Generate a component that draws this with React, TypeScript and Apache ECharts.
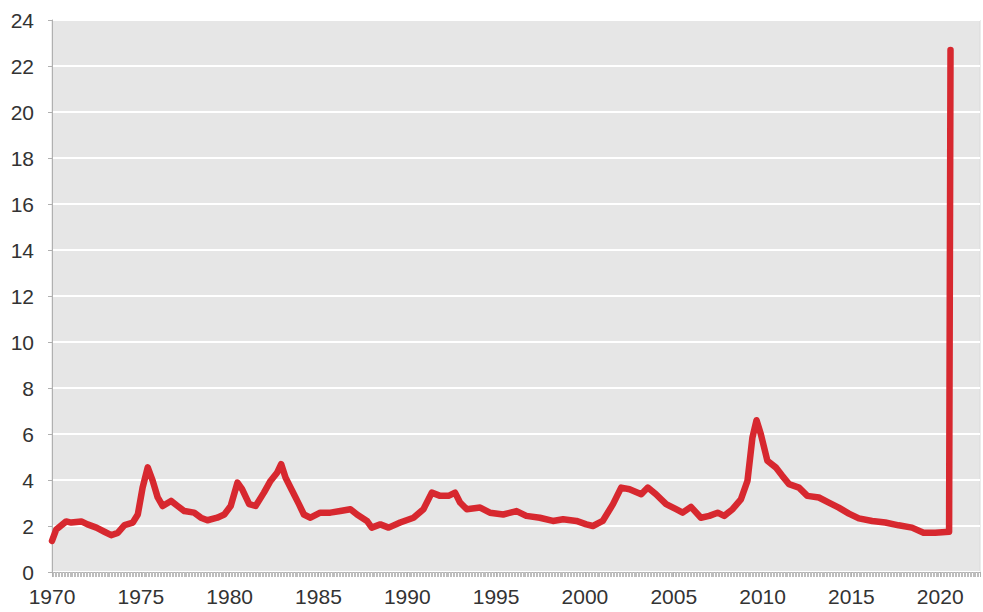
import React, { useEffect, useRef } from "react";
import * as echarts from "echarts";

const years = [
  1970.0, 1970.24, 1970.8, 1971.08, 1971.65, 1972.0, 1972.5, 1972.95, 1973.33, 1973.7,
  1974.08, 1974.55, 1974.83, 1975.1, 1975.39, 1975.67, 1975.95, 1976.23, 1976.7, 1977.07,
  1977.45, 1978.0, 1978.38, 1978.75, 1979.3, 1979.7, 1980.06, 1980.44, 1980.7, 1981.1,
  1981.46, 1981.93, 1982.3, 1982.68, 1982.9, 1983.15, 1983.52, 1983.9, 1984.18, 1984.55,
  1985.1, 1985.67, 1986.23, 1986.8, 1987.17, 1987.73, 1988.0, 1988.48, 1988.95, 1989.6,
  1990.35, 1990.91, 1991.38, 1991.85, 1992.32, 1992.69, 1992.97, 1993.35, 1994.1, 1994.65,
  1995.4, 1996.15, 1996.7, 1997.46, 1998.2, 1998.77, 1999.52, 2000.08, 2000.45, 2001.0,
  2001.58, 2002.04, 2002.51, 2003.17, 2003.54, 2004.0, 2004.57, 2005.13, 2005.5, 2005.97,
  2006.53, 2007.0, 2007.47, 2007.84, 2008.31, 2008.78, 2009.15, 2009.43, 2009.66, 2009.9,
  2010.27, 2010.74, 2011.11, 2011.49, 2012.05, 2012.52, 2013.17, 2013.73, 2014.29, 2014.86,
  2015.42, 2016.17, 2016.91, 2017.66, 2018.41, 2019.06, 2019.72, 2020.5, 2020.58,
];

const rates = [
  1.35, 1.85, 2.2, 2.15, 2.2, 2.07, 1.93, 1.75, 1.6, 1.7,
  2.04, 2.15, 2.5, 3.67, 4.55, 3.96, 3.24, 2.87, 3.09, 2.87,
  2.65, 2.58, 2.36, 2.25, 2.36, 2.5, 2.87, 3.89, 3.6, 2.95,
  2.87, 3.45, 3.96, 4.33, 4.69, 4.1, 3.53, 2.95, 2.5, 2.36,
  2.58, 2.58, 2.65, 2.73, 2.5, 2.22, 1.93, 2.07, 1.93, 2.15,
  2.36, 2.73, 3.45, 3.31, 3.31, 3.45, 3.02, 2.73, 2.8, 2.58,
  2.5, 2.65, 2.44, 2.36, 2.22, 2.29, 2.22, 2.07, 2.0, 2.22,
  2.95, 3.67, 3.6, 3.38, 3.67, 3.38, 2.95, 2.73, 2.58, 2.83,
  2.36, 2.44, 2.58, 2.44, 2.73, 3.16, 3.96, 5.85, 6.6, 6.0,
  4.84, 4.55, 4.18, 3.82, 3.67, 3.31, 3.24, 3.02, 2.8, 2.54,
  2.33, 2.22, 2.15, 2.03, 1.93, 1.71, 1.71, 1.75, 22.7,
];

const xTickYears = [1970, 1975, 1980, 1985, 1990, 1995, 2000, 2005, 2010, 2015, 2020];

export default function App() {
  const ref = useRef<HTMLDivElement>(null);

  useEffect(() => {
    if (!ref.current) return;
    const chart = echarts.init(ref.current, null, { renderer: "svg" });
    const data = years.map((y, i) => [y, rates[i]]);
    chart.setOption({
      animation: false,
      backgroundColor: "#ffffff",
      grid: {
        left: 52,
        right: 0,
        top: 20,
        bottom: 40,
        show: true,
        backgroundColor: "#e6e6e6",
        borderColor: "#dadada",
        borderWidth: 1,
      },
      xAxis: {
        type: "value",
        min: 1970,
        max: 2022.24,
        interval: 5,
        axisLine: { show: true, lineStyle: { color: "#b0b0b0", width: 1 } },
        axisTick: { show: true, length: 5, lineStyle: { color: "#b0b0b0" } },
        minorTick: { show: true, splitNumber: 60, length: 5, lineStyle: { color: "#bdbdbd" } },
        splitLine: { show: false },
        axisLabel: {
          margin: 14,
          fontSize: 21,
          color: "#333333",
          fontFamily: "Liberation Sans, Arial, sans-serif",
          formatter: (v: number) => (xTickYears.includes(Math.round(v * 100) / 100) ? String(v) : ""),
        },
      },
      yAxis: {
        type: "value",
        min: 0,
        max: 24,
        interval: 2,
        axisLine: { show: true, lineStyle: { color: "#b0b0b0", width: 1 } },
        axisTick: { show: true, length: 4, lineStyle: { color: "#b0b0b0" } },
        splitLine: { show: true, lineStyle: { color: "#ffffff", width: 2 } },
        axisLabel: {
          margin: 18,
          fontSize: 21,
          color: "#333333",
          fontFamily: "Liberation Sans, Arial, sans-serif",
        },
      },
      series: [
        {
          type: "line",
          data,
          showSymbol: false,
          smooth: false,
          lineStyle: { color: "#d7282f", width: 6.5, join: "round", cap: "round" },
          itemStyle: { color: "#d7282f" },
        },
      ],
    });
    return () => chart.dispose();
  }, []);

  return (
    <div
      ref={ref}
      style={{ position: "fixed", left: 0, top: 0, width: 983, height: 612 }}
    />
  );
}
